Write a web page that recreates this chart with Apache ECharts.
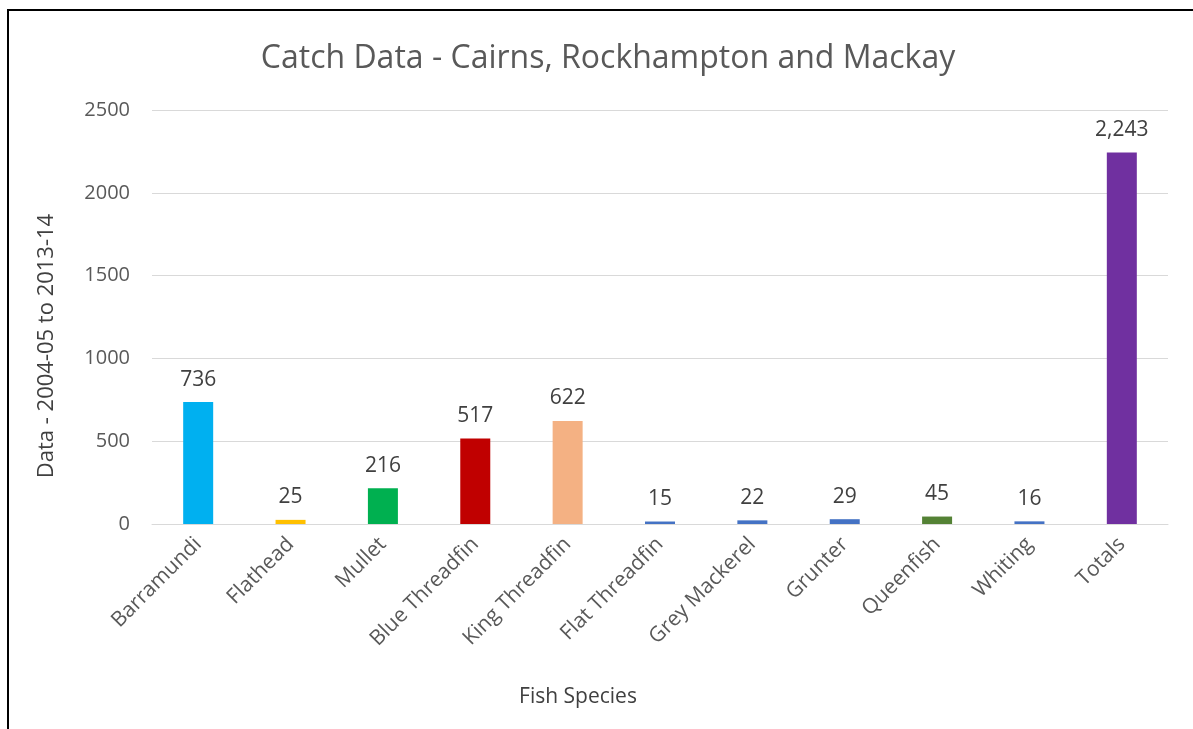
<!DOCTYPE html>
<html>
<head>
<meta charset="utf-8">
<script src="https://cdn.jsdelivr.net/npm/echarts@6/dist/echarts.min.js"></script>
<style>html,body{margin:0;padding:0;background:#fff}#c{width:1193px;height:729px}</style>
</head>
<body>
<div id="c"></div>
<script>
const categories = ["Barramundi","Flathead","Mullet","Blue Threadfin","King Threadfin","Flat Threadfin","Grey Mackerel","Grunter","Queenfish","Whiting","Totals"];
const values = [736,25,216,517,622,15,22,29,45,16,2243];
const barColors = ["#00B0F0","#FFC000","#00B050","#C00000","#F4B183","#4472C4","#4472C4","#4472C4","#548235","#4472C4","#7030A0"];
const yTicks = [0,500,1000,1500,2000,2500];
const titleText = "Catch Data - Cairns, Rockhampton and Mackay";
const xName = "Fish Species";
const yName = "Data - 2004-05 to 2013-14";

const font = "'Open Sans', 'Noto Sans', sans-serif";
const chart = echarts.init(document.getElementById('c'));
chart.setOption({
  animation: false,
  title: {
    text: titleText,
    left: 603, top: 38, textAlign: 'center',
    textStyle: {fontFamily: font, fontSize: 32, fontWeight: 'normal', color: '#595959'}
  },
  graphic: [{
    type: 'rect', shape: {x: 8, y: 10, width: 1300, height: 800},
    style: {fill: 'none', stroke: '#000', lineWidth: 2}, silent: true
  }, {
    type: 'text', x: 578, y: 697,
    style: {text: xName, fontFamily: font, fontSize: 21, fill: '#404040', align: 'center', verticalAlign: 'middle'}
  }, {
    type: 'text', x: 47, y: 346, rotation: Math.PI / 2,
    style: {text: yName, fontFamily: font, fontSize: 22, fill: '#404040', align: 'center', verticalAlign: 'middle'}
  }],
  grid: {left: 152, right: 25, top: 110, bottom: 205, containLabel: false},
  xAxis: {
    type: 'category', data: categories,
    axisTick: {show: false},
    axisLine: {lineStyle: {color: '#D9D9D9', width: 1}},
    axisLabel: {rotate: 45, fontFamily: font, fontSize: 21, color: '#595959', margin: 17, interval: 0}
  },
  yAxis: {
    type: 'value', min: 0, max: 2500, interval: 500,
    axisLine: {show: false}, axisTick: {show: false},
    splitLine: {lineStyle: {color: '#D9D9D9', width: 1}},
    axisLabel: {fontFamily: font, fontSize: 20, color: '#595959', margin: 22,
      formatter: v => yTicks.includes(v) ? String(v) : ''}
  },
  series: [{
    type: 'bar', barWidth: 30,
    data: values.map((v, i) => ({value: v, itemStyle: {color: barColors[i]}})),
    label: {show: true, position: 'top', distance: 12, fontFamily: font, fontSize: 21, color: '#404040',
      formatter: p => p.value.toLocaleString('en-US')}
  }]
});
</script>
</body>
</html>
